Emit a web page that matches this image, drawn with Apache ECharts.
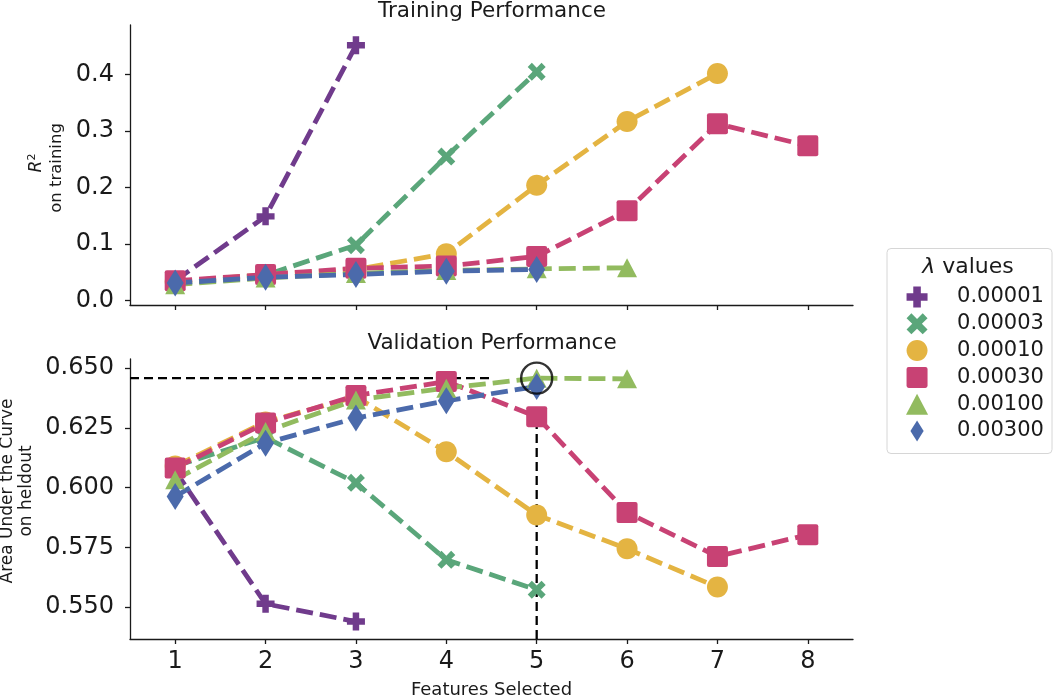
<!DOCTYPE html>
<html>
<head>
<meta charset="utf-8">
<script src="https://cdn.jsdelivr.net/npm/echarts@6/dist/echarts.min.js"></script>
<style>
html,body{margin:0;padding:0;background:#fff;}
#chart{width:1055px;height:698px;}
</style>
</head>
<body>
<div id="chart"></div>
<script>
// ---------- data ----------
const FEATURES = [1, 2, 3, 4, 5, 6, 7, 8];
const LAMBDAS = ['0.00001', '0.00003', '0.00010', '0.00030', '0.00100', '0.00300'];
const X_TICKS = [1, 2, 3, 4, 5, 6, 7, 8];
const TRAIN_TICKS = [0.0, 0.1, 0.2, 0.3, 0.4];
const VALID_TICKS = [0.55, 0.575, 0.6, 0.625, 0.65];

// R^2 on training
const train_00001 = [0.035, 0.149, 0.452];
const train_00003 = [0.030, 0.045, 0.098, 0.255, 0.405];
const train_00010 = [0.033, 0.046, 0.055, 0.083, 0.204, 0.317, 0.402];
const train_00030 = [0.035, 0.046, 0.057, 0.061, 0.078, 0.159, 0.313, 0.274];
const train_00100 = [0.028, 0.040, 0.048, 0.053, 0.056, 0.058];
const train_00300 = [0.031, 0.041, 0.046, 0.052, 0.055];

// AUC on heldout
const valid_00001 = [0.607, 0.5514, 0.544];
const valid_00003 = [0.609, 0.621, 0.602, 0.5698, 0.5573];
const valid_00010 = [0.609, 0.6275, 0.638, 0.615, 0.5886, 0.5744, 0.5584];
const valid_00030 = [0.6082, 0.627, 0.6385, 0.6444, 0.6297, 0.5896, 0.5712, 0.5803];
const valid_00100 = [0.6033, 0.6235, 0.6367, 0.6416, 0.6458, 0.6455];
const valid_00300 = [0.5963, 0.6186, 0.6291, 0.6363, 0.6423];

const TRAIN = [train_00001, train_00003, train_00010, train_00030, train_00100, train_00300];
const VALID = [valid_00001, valid_00003, valid_00010, valid_00030, valid_00100, valid_00300];

// ---------- styling ----------
const COLORS = ['#703b8c', '#5aa67a', '#e4b442', '#c84274', '#92bb5f', '#4b6aab'];
const P_PLUS = 'path://M3.2,0H6.8V3.2H10V6.8H6.8V10H3.2V6.8H0V3.2H3.2Z';
const P_X = 'path://M0,2.3L2.3,0L5,2.7L7.7,0L10,2.3L7.3,5L10,7.7L7.7,10L5,7.3L2.3,10L0,7.7L2.7,5Z';
const P_CIRCLE = 'path://M0,10C0,4.48 4.48,0 10,0C15.52,0 20,4.48 20,10C20,15.52 15.52,20 10,20C4.48,20 0,15.52 0,10Z';
const P_SQUARE = 'path://M2,0H18Q20,0 20,2V18Q20,20 18,20H2Q0,20 0,18V2Q0,0 2,0Z';
const P_TRI = 'path://M10,0L20,18L0,18Z';
const P_DIAMOND = 'path://M8.5,0L17,13.5L8.5,27L0,13.5Z';
const SYMBOLS = [P_PLUS, P_X, P_CIRCLE, P_SQUARE, P_TRI, P_DIAMOND];
const SIZES = [18, 18, 21, 21, [20, 19], [17, 27]];
const LEGEND_ICONS = [P_PLUS, P_X, P_CIRCLE, P_SQUARE, 'path://M10,0L20,19L0,19Z', P_DIAMOND];

const FONT = 'DejaVu Sans';
const INK = '#1a1a1a';
const X_MIN = 0.5, X_MAX = 8.5;
const Y1_MIN = -0.008, Y1_MAX = 0.488;
const Y2_MIN = 0.5367, Y2_MAX = 0.6538;

function pairs(vals) { return vals.map((v, i) => [FEATURES[i], v]); }

const series = [];
function lambdaSeries(k, grid) {
  const vals = grid === 0 ? TRAIN[k] : VALID[k];
  return {
    name: LAMBDAS[k], type: 'line', xAxisIndex: grid, yAxisIndex: grid,
    data: pairs(vals), symbol: SYMBOLS[k], symbolSize: SIZES[k], symbolKeepAspect: false,
    showSymbol: true, showAllSymbol: true,
    lineStyle: { color: COLORS[k], width: 4.8, type: [17, 7], cap: 'butt' },
    itemStyle: { color: COLORS[k], borderWidth: 0 },
    emphasis: { disabled: true }, z: 2
  };
}
for (let k = 0; k < 6; k++) series.push(lambdaSeries(k, 0));
// best point on validation
let bestVal = -Infinity, bestX = null;
VALID.forEach(arr => arr.forEach((v, i) => { if (v > bestVal) { bestVal = v; bestX = FEATURES[i]; } }));
for (let k = 0; k < 3; k++) series.push(lambdaSeries(k, 1));
// reference lines
const refStyle = { color: '#000', width: 2.3, type: [9, 5], cap: 'butt' };
series.push({
  type: 'line', xAxisIndex: 1, yAxisIndex: 1, symbol: 'none', silent: true,
  data: [[X_MIN, bestVal], [(X_MIN + X_MAX) / 2, bestVal]], lineStyle: refStyle, z: 2
});
series.push({
  type: 'line', xAxisIndex: 1, yAxisIndex: 1, symbol: 'none', silent: true,
  data: [[bestX, Y2_MIN], [bestX, Y2_MIN + 0.8 * (Y2_MAX - Y2_MIN)]], lineStyle: refStyle, z: 2
});
for (let k = 3; k < 6; k++) series.push(lambdaSeries(k, 1));
series.push({
  type: 'scatter', xAxisIndex: 1, yAxisIndex: 1, silent: true,
  data: [[bestX, bestVal]], symbol: 'circle', symbolSize: 31,
  itemStyle: { color: 'rgba(0,0,0,0)', borderColor: '#000', borderWidth: 2.4 }, z: 5
});

function xAxis(grid, showLabels) {
  return {
    type: 'value', gridIndex: grid, min: X_MIN, max: X_MAX,
    axisLine: { show: true, onZero: false, lineStyle: { color: INK, width: 1.3 } },
    axisTick: { show: true, length: 5, customValues: X_TICKS, lineStyle: { color: INK, width: 1.3 } },
    axisLabel: { show: showLabels, customValues: X_TICKS, margin: 11, color: INK, fontSize: 24, fontFamily: FONT },
    splitLine: { show: false }
  };
}
function yAxis(grid, min, max, ticks, digits) {
  return {
    type: 'value', gridIndex: grid, min: min, max: max,
    axisLine: { show: true, onZero: false, lineStyle: { color: INK, width: 1.3 } },
    axisTick: { show: true, length: 5, customValues: ticks, lineStyle: { color: INK, width: 1.3 } },
    axisLabel: { customValues: ticks, margin: 16, color: INK, fontSize: 24, fontFamily: FONT,
      formatter: v => Number(v).toFixed(digits) },
    splitLine: { show: false }
  };
}

const chart = echarts.init(document.getElementById('chart'), null, { renderer: 'canvas' });
chart.setOption({
  animation: false,
  backgroundColor: '#ffffff',
  grid: [
    { left: 130, top: 25, width: 723, height: 280 },
    { left: 130, top: 359, width: 723, height: 280 }
  ],
  xAxis: [xAxis(0, false), xAxis(1, true)],
  yAxis: [yAxis(0, Y1_MIN, Y1_MAX, TRAIN_TICKS, 1), yAxis(1, Y2_MIN, Y2_MAX, VALID_TICKS, 3)],
  legend: {
    orient: 'vertical', left: 901, top: 281.5, itemWidth: 70, itemHeight: 21, itemGap: 5.8,
    symbolKeepAspect: true, selectedMode: false,
    data: LAMBDAS.map((n, k) => ({ name: n, icon: LEGEND_ICONS[k] })),
    textStyle: { fontSize: 21, fontFamily: FONT, color: INK, lineHeight: 21 },
    z: 6
  },
  graphic: [
    { type: 'rect', shape: { x: 887, y: 248.5, width: 165, height: 205, r: 4 },
      style: { fill: '#ffffff', stroke: '#d6d6d6', lineWidth: 1 }, z: 1, silent: true },
    { type: 'text', x: 968, y: 267, z: 7,
      style: { text: '{i|λ} values', textAlign: 'center', textVerticalAlign: 'middle',
        font: '22px "DejaVu Sans"', fill: INK,
        rich: { i: { fontStyle: 'italic', fontSize: 22, fontFamily: FONT } } } },
    { type: 'text', x: 492, y: 11, z: 7,
      style: { text: 'Training Performance', textAlign: 'center', textVerticalAlign: 'middle',
        font: '21.5px "DejaVu Sans"', fill: INK } },
    { type: 'text', x: 492, y: 343, z: 7,
      style: { text: 'Validation Performance', textAlign: 'center', textVerticalAlign: 'middle',
        font: '21.5px "DejaVu Sans"', fill: INK } },
    { type: 'text', x: 491.5, y: 690, z: 7,
      style: { text: 'Features Selected', textAlign: 'center', textVerticalAlign: 'middle',
        font: '18px "DejaVu Sans"', fill: INK } },
    { type: 'text', x: 37, y: 163, rotation: Math.PI / 2, z: 7,
      style: { text: '{i|R}{s|2}', textAlign: 'center', textVerticalAlign: 'middle',
        font: '17px "DejaVu Sans"', fill: INK,
        rich: { i: { fontStyle: 'italic', fontSize: 17, fontFamily: FONT, lineHeight: 20 },
                s: { fontSize: 11, fontFamily: FONT, verticalAlign: 'top', lineHeight: 20 } } } },
    { type: 'text', x: 57, y: 168, rotation: Math.PI / 2, z: 7,
      style: { text: 'on training', textAlign: 'center', textVerticalAlign: 'middle',
        font: '16.5px "DejaVu Sans"', fill: INK } },
    { type: 'text', x: 8, y: 491, rotation: Math.PI / 2, z: 7,
      style: { text: 'Area Under the Curve', textAlign: 'center', textVerticalAlign: 'middle',
        font: '17px "DejaVu Sans"', fill: INK } },
    { type: 'text', x: 27, y: 491, rotation: Math.PI / 2, z: 7,
      style: { text: 'on heldout', textAlign: 'center', textVerticalAlign: 'middle',
        font: '17px "DejaVu Sans"', fill: INK } }
  ],
  series: series
});
</script>
</body>
</html>
